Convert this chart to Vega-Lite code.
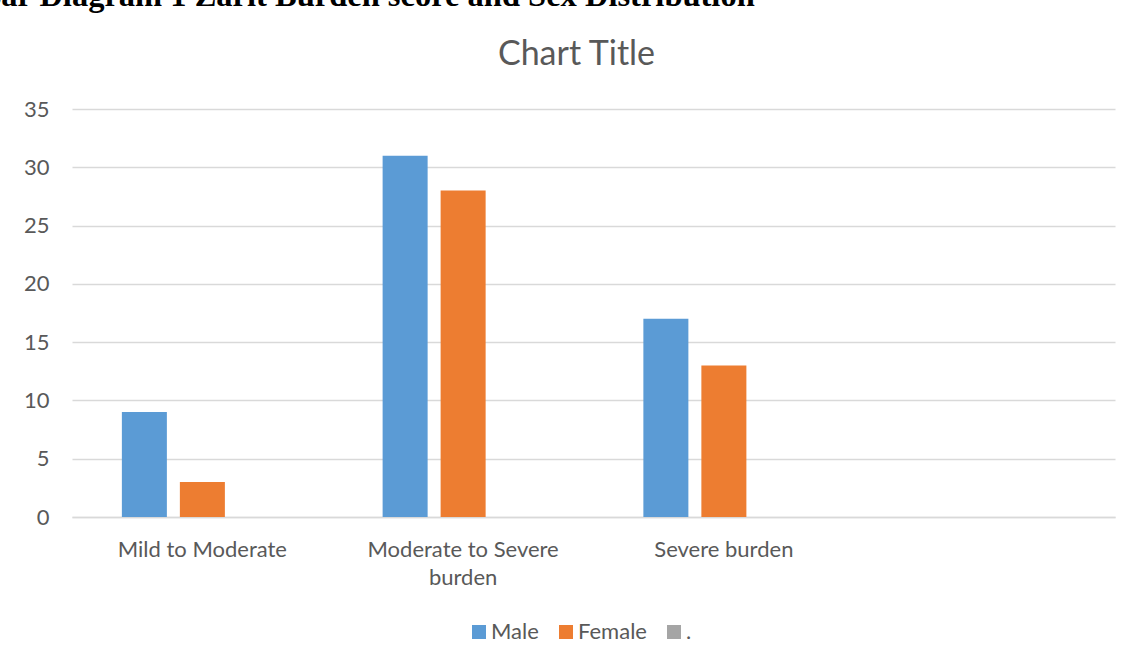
{
  "$schema": "https://vega.github.io/schema/vega-lite/v6.json",
  "autosize": {"type": "none"},
  "width": 1043,
  "height": 408,
  "padding": {"left": 72, "top": 109, "right": 22, "bottom": 144},
  "background": "white",
  "title": {
    "text": "Chart Title",
    "anchor": "middle",
    "frame": "group",
    "baseline": "alphabetic",
    "offset": 0,
    "dy": 120,
    "dx": -17,
    "font": "Lato",
    "fontSize": 34,
    "fontWeight": "normal",
    "color": "#595959"
  },
  "data": {
    "values": [
      {"burden": "Mild to Moderate", "sex": "Male", "count": 9},
      {"burden": "Mild to Moderate", "sex": "Female", "count": 3},
      {"burden": "Moderate to Severe burden", "sex": "Male", "count": 31},
      {"burden": "Moderate to Severe burden", "sex": "Female", "count": 28},
      {"burden": "Severe burden", "sex": "Male", "count": 17},
      {"burden": "Severe burden", "sex": "Female", "count": 13}
    ]
  },
  "mark": {"type": "bar"},
  "encoding": {
    "x": {
      "field": "burden",
      "type": "nominal",
      "sort": null,
      "scale": {
        "domain": ["Mild to Moderate", "Moderate to Severe burden", "Severe burden", ""],
        "paddingInner": 0.3825,
        "paddingOuter": 0.19125
      },
      "axis": {
        "title": null,
        "labelAngle": 0,
        "ticks": false,
        "domain": true,
        "domainColor": "#d9d9d9",
        "domainWidth": 1.3,
        "labelPadding": 22,
        "labelFont": "Lato",
        "labelFontSize": 22,
        "labelColor": "#595959",
        "labelBaseline": "top",
        "labelLineHeight": 28,
        "labelLimit": 0,
        "labelExpr": "datum.value == 'Moderate to Severe burden' ? ['Moderate to Severe', 'burden'] : datum.value"
      }
    },
    "xOffset": {
      "field": "sex",
      "type": "nominal",
      "scale": {"domain": ["Male", "Female", "."], "paddingInner": 0.224, "paddingOuter": 0}
    },
    "y": {
      "field": "count",
      "type": "quantitative",
      "scale": {"domain": [0, 35], "nice": false},
      "axis": {
        "values": [0, 5, 10, 15, 20, 25, 30, 35],
        "ticks": false,
        "domain": false,
        "grid": true,
        "gridColor": "#d9d9d9",
        "gridWidth": 1.3,
        "labelPadding": 23,
        "labelFont": "Lato",
        "labelFontSize": 22,
        "labelColor": "#595959",
        "title": "Bar Diagram 1 Zarit Burden score and Sex Distribution",
        "titleAngle": 0,
        "titleAlign": "left",
        "titleBaseline": "alphabetic",
        "titleX": -93,
        "titleY": -104,
        "titleFont": "Liberation Serif",
        "titleFontSize": 32.5,
        "titleFontWeight": "bold",
        "titleColor": "#000000",
        "titleLimit": 0
      }
    },
    "color": {
      "field": "sex",
      "type": "nominal",
      "scale": {"domain": ["Male", "Female", "."], "range": ["#5b9bd5", "#ed7d31", "#a5a5a5"]},
      "legend": {
        "title": null,
        "orient": "none",
        "direction": "horizontal",
        "legendX": 396,
        "legendY": 512,
        "symbolType": "square",
        "symbolSize": 196,
        "symbolStrokeWidth": 0,
        "labelOffset": 1,
        "columnPadding": 16,
        "labelFont": "Lato",
        "labelFontSize": 22,
        "labelColor": "#595959"
      }
    }
  },
  "config": {"view": {"stroke": null}}
}
